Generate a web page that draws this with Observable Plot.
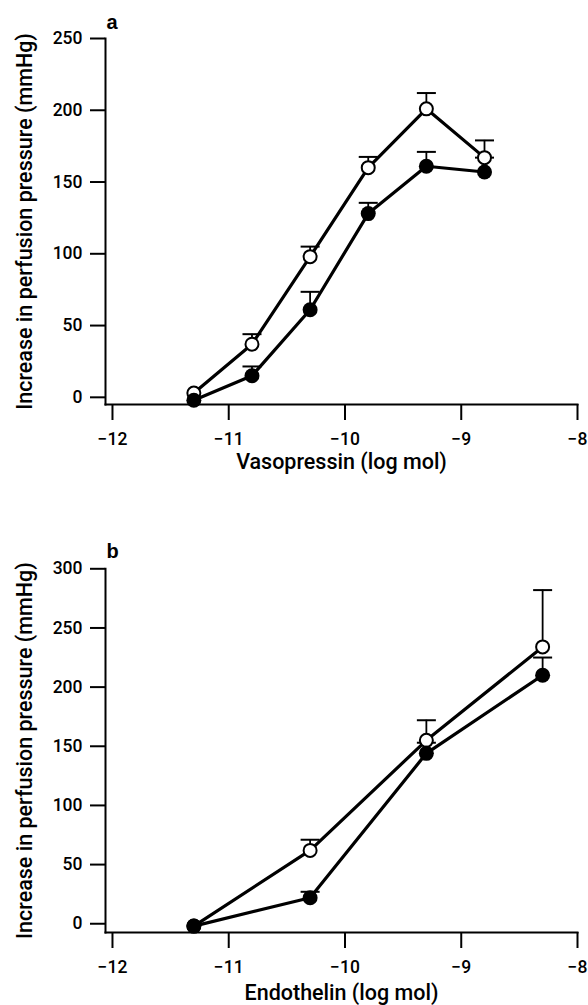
<!DOCTYPE html>
<html><head><meta charset="utf-8">
<script src="https://cdn.jsdelivr.net/npm/d3@7"></script>
<script src="https://cdn.jsdelivr.net/npm/@observablehq/plot@0.6"></script>
<style>
body{margin:0;background:#fff;}
#chart{width:588px;}
#chart svg{display:block;}
#chart [aria-label="y-axis label"], #chart [aria-label="x-axis label"]{font-size:21.5px;}
</style></head><body><div id="chart"></div>
<script>
// Panel a: vasopressin
const vasoDose = [-11.3, -10.8, -10.3, -9.8, -9.3, -8.8];
const vasoOpen = [3, 37, 98, 160, 201, 167];
const vasoOpenUp = [null, 44, 105, 167.5, 212, 179];
const vasoFilled = [-2, 15, 61, 128, 161, 157];
const vasoFilledUp = [null, 21.5, 73.5, 135.5, 171, 167];
const vasoTicks = [0, 50, 100, 150, 200, 250];

// Panel b: endothelin
const endoDose = [-11.3, -10.3, -9.3, -8.3];
const endoOpen = [-2, 62, 155, 234];
const endoOpenUp = [null, 71, 172, 282];
const endoFilled = [-2, 22, 144, 210];
const endoFilledUp = [null, 27, 153, 225];
const endoTicks = [0, 50, 100, 150, 200, 250, 300];

const xTicks = [-12, -11, -10, -9, -8];
const yTitle = "Increase in perfusion pressure (mmHg)";

const capSymbol = {draw(ctx) { ctx.moveTo(-9.5, 0); ctx.lineTo(9.5, 0); }};
const font = "Roboto, 'Liberation Sans', sans-serif";

function panel(cfg) {
  const rows = (vals, ups, group) => cfg.dose.map((d, i) => ({dose: d, value: vals[i], upper: ups[i], group}));
  const o = rows(cfg.open, cfg.openUp, "open");
  const f = rows(cfg.filled, cfg.filledUp, "filled");
  const errs = [...o, ...f].filter(d => d.upper != null);
  return Plot.plot({
    width: 588, height: cfg.height,
    marginTop: cfg.marginTop, marginBottom: cfg.marginBottom, marginLeft: 105, marginRight: 11,
    style: {fontFamily: font, fontSize: "17.5px", fontWeight: 500, color: "#000", background: "#fff", overflow: "visible"},
    x: {domain: [-12.06, -8]},
    y: {domain: cfg.yDomain},
    marks: [
      Plot.frame({anchor: "left", strokeWidth: 2}),
      Plot.frame({anchor: "bottom", strokeWidth: 2}),
      Plot.axisY({ticks: cfg.yTicks, tickSize: 15, tickPadding: 8, strokeWidth: 2, tickFormat: d3.format("d"),
        fontSize: 17.5, fontWeight: 500, fontFamily: font,
        label: yTitle, labelAnchor: "center", labelOffset: 89, labelArrow: false}),
      Plot.axisX({ticks: xTicks, tickSize: 16, tickPadding: 12, strokeWidth: 2, tickFormat: d3.format("d"),
        fontSize: 17.5, fontWeight: 500, fontFamily: font,
        label: cfg.xLabel, labelAnchor: "center", labelOffset: cfg.xLabelOffset, labelArrow: false}),
      Plot.line(o, {x: "dose", y: "value", strokeWidth: 3.2}),
      Plot.line(f, {x: "dose", y: "value", strokeWidth: 3.2}),
      Plot.ruleX(errs, {x: "dose", y1: "value", y2: "upper", strokeWidth: 1.8}),
      Plot.dot(errs, {x: "dose", y: "upper", symbol: capSymbol, stroke: "black", strokeWidth: 2}),
      Plot.dot(o, {x: "dose", y: "value", r: 6.5, fill: "white", stroke: "black", strokeWidth: 2}),
      Plot.dot(f, {x: "dose", y: "value", r: 7.5, fill: "black"}),
      Plot.text([cfg.letter], {text: d => d, frameAnchor: "top-left", dx: 1, dy: cfg.letterDy, textAnchor: "start", lineAnchor: "bottom",
        fontWeight: "bold", fontSize: 20, fontFamily: "'Liberation Sans', Arial, sans-serif"})
    ]
  });
}

const chart = document.getElementById("chart");
chart.append(panel({
  dose: vasoDose, open: vasoOpen, openUp: vasoOpenUp, filled: vasoFilled, filledUp: vasoFilledUp,
  yDomain: [-5, 250], yTicks: vasoTicks, xLabel: "Vasopressin (log mol)", letter: "a",
  height: 480, marginTop: 38, marginBottom: 76, xLabelOffset: 64, letterDy: -10
}));
chart.append(panel({
  dose: endoDose, open: endoOpen, openUp: endoOpenUp, filled: endoFilled, filledUp: endoFilledUp,
  yDomain: [-7.4, 300], yTicks: endoTicks, xLabel: "Endothelin (log mol)", letter: "b",
  height: 525, marginTop: 88.3, marginBottom: 73, xLabelOffset: 67, letterDy: -11
}));
</script></body></html>
